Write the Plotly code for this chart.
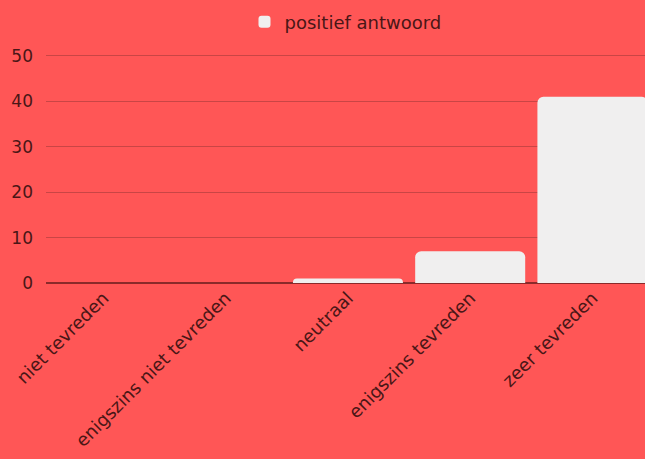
import plotly.graph_objects as go

categories = ["niet tevreden", "enigszins niet tevreden", "neutraal", "enigszins tevreden", "zeer tevreden"]
values = [0, 0, 1, 7, 41]
series_name = "positief antwoord"
y_ticks = [0, 10, 20, 30, 40, 50]

bg = "#FF5656"
text_col = "#4a1616"
font_family = "DejaVu Sans, Verdana, sans-serif"

fig = go.Figure()
fig.add_trace(go.Bar(
    x=categories, y=values, name=series_name,
    marker=dict(color="#F0EFEF", cornerradius=6, line=dict(width=0)),
    showlegend=True,
))

fig.update_layout(
    width=645, height=459,
    paper_bgcolor=bg, plot_bgcolor=bg,
    margin=dict(l=46, r=0, t=54, b=176),
    bargap=0.1,
    font=dict(family=font_family, color=text_col, size=15),
    showlegend=True,
    legend=dict(orientation="h", x=0.5, xanchor="center", y=0.992, yanchor="top",
                yref="container", font=dict(size=18, color=text_col), bgcolor="rgba(0,0,0,0)"),
    xaxis=dict(range=[-0.47, 4.43], tickangle=-45, showgrid=False, showline=False,
               ticks="", tickfont=dict(size=18, color=text_col), zeroline=False),
    yaxis=dict(range=[0, 50.4], tickvals=y_ticks, showgrid=True, gridcolor="#c94545", gridwidth=1,
               zeroline=True, zerolinecolor="#8a2a2a", zerolinewidth=1.5,
               tickfont=dict(size=17, color=text_col), ticks="", ticklabelstandoff=12),
)

fig.write_html("out.html", config={"displayModeBar": False},
               post_script="document.body.style.margin='0';document.body.style.background='%s';" % bg)
